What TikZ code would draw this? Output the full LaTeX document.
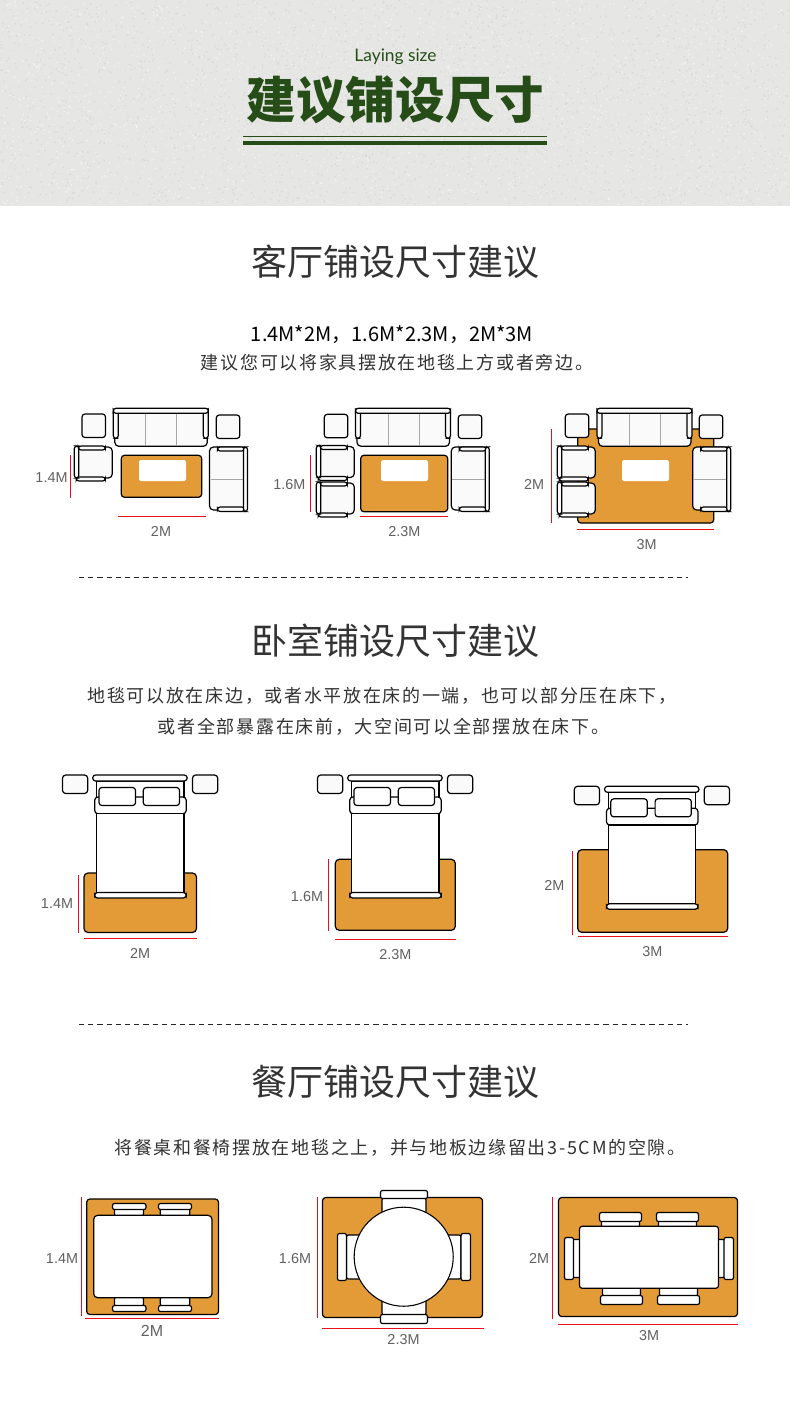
\documentclass[tikz,border=0pt]{standalone}
\usepackage{fontspec}
\setmainfont{Liberation Sans}
\newfontfamily\cjk{Noto Sans CJK SC}
\newfontfamily\cjksp[LetterSpace=9.4]{Noto Sans CJK SC}
\newfontfamily\latofont{Lato}
\definecolor{rug}{HTML}{E39B38}
\definecolor{band}{HTML}{E6E6E4}
\definecolor{specklea}{HTML}{F2F2F0}
\definecolor{speckleb}{HTML}{D9D9D7}
\definecolor{tgreen}{HTML}{264D18}
\definecolor{seat}{HTML}{FAFAFA}
\definecolor{dimred}{HTML}{E8101A}
\definecolor{ink}{HTML}{333333}
\tikzset{
  rugbox/.style={fill=rug,draw=black,line width=0.9pt,rounded corners=2.4pt},
  part/.style={fill=seat,draw=black,line width=0.9pt,rounded corners=2pt},
  wpart/.style={fill=white,draw=black,line width=0.9pt,rounded corners=1.5pt},
  divider/.style={draw=black!35,line width=0.6pt},
  dimline/.style={draw=dimred,line width=0.85pt},
  dimlabel/.style={text=black!62,yshift=-0.4pt,font=\fontsize{10.8}{13}\selectfont},
  heading/.style={text=ink,font=\cjk\fontsize{27}{32}\selectfont},
  bodytext/.style={text=ink,font=\cjksp\fontsize{13.5}{16}\selectfont},
}
\newcommand\sofaT[2]{\begin{scope}[shift={(#1,#2)}]
  \draw[part,rounded corners=3pt] (1.5,4) rectangle (94,38);
  \draw[divider] (32.5,5)--(32.5,38) (63.5,5)--(63.5,38);
  \draw[part] (0,1) rectangle (5,30);
  \draw[part] (90,1) rectangle (95,30);
  \draw[part] (0,0) rectangle (95,5);
\end{scope}}
\newcommand\chairA[2]{\begin{scope}[shift={(#1,#2)}]
  \draw[part,rounded corners=3pt] (1,1) rectangle (38,32);
  \draw[part] (4,0) rectangle (31,4);
  \draw[part] (2,31) rectangle (31,35);
  \draw[part] (0,0) rectangle (4.5,32);
\end{scope}}
\newcommand\sofaR[2]{\begin{scope}[shift={(#1,#2)}]
  \draw[part,rounded corners=3pt] (0,0) rectangle (35,63);
  \draw[divider] (1,32)--(34,32);
  \draw[part] (8,0) rectangle (35,4);
  \draw[part] (8,60) rectangle (35,64.5);
  \draw[part] (34,0) rectangle (38,64.5);
\end{scope}}
\newcommand\sidet[2]{\draw[part,rounded corners=2.2pt] (#1,#2) rectangle ++(23.5,23.5);}
\newcommand\bedset[3]{\begin{scope}[shift={(#1,#2)}]
  \draw[part,rounded corners=2.4pt] (-30.2,0) rectangle (-5,18.5);
  \draw[part,rounded corners=2.4pt] (99.8,0) rectangle (125,18.5);
  \draw[wpart,rounded corners=0pt] (4,6) rectangle (91.3,#3);
  \draw[wpart,rounded corners=2.4pt] (2,22) rectangle (93.5,38.7);
  \draw[wpart,rounded corners=0pt] (4,38.7) rectangle (91.3,#3);
  \draw[wpart,rounded corners=2.2pt] (0,0) rectangle (94.5,6);
  \draw[wpart,rounded corners=2.2pt] (6.3,12.5) rectangle (42.8,30.5);
  \draw[wpart,rounded corners=2.2pt] (50.6,12.5) rectangle (86.8,30.5);
  \draw[wpart,rounded corners=2.2pt] (2,#3-1) rectangle (93.5,#3+4.5);
\end{scope}}
\newcommand\wbox[4]{\draw[wpart] (#1,#2) rectangle (#3,#4);}
\begin{document}
\begin{tikzpicture}[x=0.75pt,y=-0.75pt]
\useasboundingbox (0,0) rectangle (790,1403);
\fill[white] (0,0) rectangle (790,1403);
\fill[band] (0,0) rectangle (790,206);
\pgfmathsetseed{11}
\fill[specklea] \foreach \i in {1,...,2200} {
  (rnd*788,rnd*204) rectangle ++(1.3,1.3)};
\fill[speckleb] \foreach \i in {1,...,2200} {
  (rnd*788,rnd*204) rectangle ++(1.3,1.3)};
% title
\node[text=tgreen,font=\latofont\fontsize{13}{16}\selectfont] (sub) at (395.5,57) {Laying size};
\node[text=tgreen,font=\cjk\bfseries\fontsize{37.2}{44}\selectfont] (title) at (395.5,100) {建议铺设尺寸};
\fill[tgreen] (243,135.6) rectangle (547,136.7);
\fill[tgreen] (243,141) rectangle (547,145);
% living
\node[heading] (h1) at (395,262) {客厅铺设尺寸建议};
\node[text=black,font=\cjk\fontsize{15}{18}\selectfont] (sz) at (392,334.5) {1.4M*2M，1.6M*2.3M，2M*3M};
\node[bodytext] (t1) at (397,363) {建议您可以将家具摆放在地毯上方或者旁边。};
% L1
\draw[rugbox] (121.3,455.3) rectangle (201.7,497.3);
\fill[white,rounded corners=1.2pt] (139,460) rectangle (186,481);
\sofaT{113.3}{408.3}\sidet{82}{414}\sidet{216.3}{415}\chairA{74.3}{446}\sofaR{209.5}{447}
\draw[dimline] (70.5,455)--(70.5,498);
\draw[dimline] (118,516.5)--(206,516.5);
\node[dimlabel] (l1a) at (51.5,477) {1.4M};
\node[dimlabel] (l1b) at (161,531) {2M};
% L2
\draw[rugbox] (360.7,455.3) rectangle (447.7,511.7);
\fill[white,rounded corners=1.2pt] (381,460) rectangle (428,481);
\sofaT{355.5}{408.3}\sidet{324.3}{414.3}\sidet{458.3}{415}\chairA{316.3}{445.5}\chairA{316.3}{482}\sofaR{451.3}{447}
\draw[dimline] (310.3,455)--(310.3,511.7);
\draw[dimline] (360,516.3)--(448,516.3);
\node[dimlabel] (l2a) at (289.3,484) {1.6M};
\node[dimlabel] (l2b) at (404.3,531) {2.3M};
% L3
\draw[rugbox] (577.7,429) rectangle (713.7,523);
\fill[white,rounded corners=1.2pt] (622,460) rectangle (669,481);
\sofaT{597}{408.3}\sidet{565.3}{414}\sidet{699.3}{415}\chairA{557.3}{446}\chairA{557.3}{482}\sofaR{692.7}{447}
\draw[dimline] (551.5,429)--(551.5,523);
\draw[dimline] (577,529.5)--(713.7,529.5);
\node[dimlabel] (l3a) at (534,484) {2M};
\node[dimlabel] (l3b) at (646.5,544) {3M};
% separators
\draw[black!85,line width=0.75pt,dash pattern=on 3.9pt off 3pt] (79,577)--(688,577);
\draw[black!85,line width=0.75pt,dash pattern=on 3.9pt off 3pt] (79,1024)--(688,1024);
% bedroom
\node[heading] (h2) at (395,641) {卧室铺设尺寸建议};
\node[bodytext] (t2) at (382,696) {地毯可以放在床边，或者水平放在床的一端，也可以部分压在床下，};
\node[bodytext] (t3) at (383.5,727) {或者全部暴露在床前，大空间可以全部摆放在床下。};
% B1
\draw[rugbox,rounded corners=3pt] (84,873) rectangle (196.5,932.5);
\bedset{92.7}{775}{118.5}
\draw[dimline] (78.3,875)--(78.3,933);
\draw[dimline] (84,938.7)--(197,938.7);
\node[dimlabel] (b1a) at (57,903) {1.4M};
\node[dimlabel] (b1b) at (140,953) {2M};
% B2
\draw[rugbox,rounded corners=3pt] (335.3,859.3) rectangle (455.3,930.3);
\bedset{347.7}{775}{118.5}
\draw[dimline] (328.3,859)--(328.3,930.5);
\draw[dimline] (335,939.3)--(456,939.3);
\node[dimlabel] (b2a) at (307,895.7) {1.6M};
\node[dimlabel] (b2b) at (395.3,954) {2.3M};
% B3
\draw[rugbox,rounded corners=3pt] (577.7,849.7) rectangle (727.7,932.3);
\bedset{604.5}{786.3}{118.5}
\draw[dimline] (572.3,851)--(572.3,935);
\draw[dimline] (577.5,936.3)--(728,936.3);
\node[dimlabel] (b3a) at (554.3,885) {2M};
\node[dimlabel] (b3b) at (652.3,950.7) {3M};
% dining
\node[heading] (h3) at (395,1082) {餐厅铺设尺寸建议};
\node[bodytext] (t4) at (400,1148) {将餐桌和餐椅摆放在地毯之上，并与地板边缘留出3-5CM的空隙。};
% D1
\draw[rugbox] (86.7,1199) rectangle (218.5,1314.5);
\wbox{114.5}{1208}{143.5}{1216}\wbox{160.3}{1208}{189.7}{1216}
\wbox{112.5}{1203.5}{146}{1209.5}\wbox{158.5}{1203.5}{191.5}{1209.5}
\wbox{114.5}{1297}{143.5}{1306}\wbox{160.3}{1297}{189.7}{1306}
\wbox{112.5}{1305.5}{146}{1311.5}\wbox{158.5}{1305.5}{191.5}{1311.5}
\draw[wpart,rounded corners=3pt] (93.7,1215.3) rectangle (212,1297.7);
\draw[dimline] (81.5,1197)--(81.5,1316);
\draw[dimline] (85,1318.5)--(219,1318.5);
\node[dimlabel] (d1a) at (62,1258) {1.4M};
\node[dimlabel,font=\fontsize{12}{14}\selectfont] (d1b) at (152,1330) {2M};
% D2
\draw[rugbox] (322.5,1197.5) rectangle (482.5,1317.5);
\wbox{382}{1198}{426}{1220}\wbox{382}{1295}{426}{1315}
\wbox{346.5}{1235}{365}{1279}\wbox{443}{1235}{461}{1279}
\wbox{380.5}{1190.5}{427.5}{1198.5}\wbox{380.5}{1314.5}{427.5}{1323.5}
\wbox{337.5}{1233.5}{346.5}{1280.5}\wbox{461}{1233.5}{470.5}{1280.5}
\node[circle,draw=black,fill=white,line width=0.8pt,minimum size=74.3pt,inner sep=0pt] (d2c) at (403.7,1256.7) {};
\draw[dimline] (317.5,1197)--(317.5,1318);
\draw[dimline] (322,1328.5)--(484,1328.5);
\node[dimlabel] (d2a) at (295,1258) {1.6M};
\node[dimlabel] (d2b) at (403.5,1339) {2.3M};
% D3
\draw[rugbox] (558.5,1197.5) rectangle (737.5,1316.5);
\wbox{601.5}{1220}{639.5}{1228}\wbox{658.5}{1220}{696.5}{1228}
\wbox{599.5}{1212.5}{641.5}{1221.5}\wbox{656.5}{1212.5}{698.5}{1221.5}
\wbox{602.5}{1287}{640.5}{1296}\wbox{659.5}{1287}{697.5}{1296}
\wbox{600.5}{1295.5}{642.5}{1304.5}\wbox{657.5}{1295.5}{699.5}{1304.5}
\wbox{572}{1239.5}{581}{1277.5}\wbox{717}{1239.5}{725}{1277.5}
\wbox{564.5}{1237.5}{573.5}{1279.5}\wbox{724}{1237.5}{733.5}{1279.5}
\draw[wpart,rounded corners=2pt] (579.5,1226.3) rectangle (718.5,1288.3);
\draw[dimline] (552.5,1197)--(552.5,1319);
\draw[dimline] (558,1324.5)--(738,1324.5);
\node[dimlabel] (d3a) at (539,1258) {2M};
\node[dimlabel] (d3b) at (649,1335) {3M};
\end{tikzpicture}
\end{document}
